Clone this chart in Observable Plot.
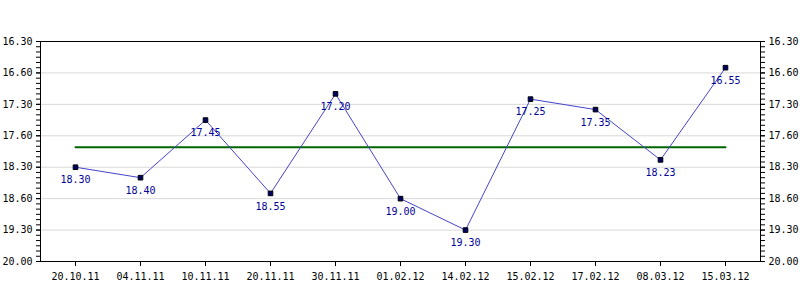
<!DOCTYPE html>
<html>
<head>
<meta charset="utf-8">
<script src="https://cdn.jsdelivr.net/npm/d3@7"></script>
<script src="https://cdn.jsdelivr.net/npm/@observablehq/plot@0.6"></script>
<style>
  html, body { margin: 0; padding: 0; background: #fff; }
  #chart svg { display: block; }
</style>
</head>
<body>
<div id="chart"></div>
<script>
// Categories (dates)
const dates = ["20.10.11","04.11.11","10.11.11","20.11.11","30.11.11","01.02.12","14.02.12","15.02.12","17.02.12","08.03.12","15.03.12"];
// Values as minutes.seconds
const times = ["18.30","18.40","17.45","18.55","17.20","19.00","19.30","17.25","17.35","18.23","16.55"];
// Average line value (minutes.seconds)
const avgTime = "18.11";
// Y tick positions (seconds) and their labels as shown
const yTickSeconds = [990, 1020, 1050, 1080, 1110, 1140, 1170, 1200];
const yTickLabels = ["16.30","16.60","17.30","17.60","18.30","18.60","19.30","20.00"];
const yMinorSeconds = d3.range(990, 1201, 5);

const toSec = t => { const [m, s] = t.split(".").map(Number); return m * 60 + s; };
const data = dates.map((d, i) => ({date: d, label: times[i], sec: toSec(times[i])}));
const avgSec = toSec(avgTime);
const avgData = [{date: dates[0], sec: avgSec}, {date: dates[dates.length - 1], sec: avgSec}];
const labelOf = new Map(yTickSeconds.map((v, i) => [v, yTickLabels[i]]));

const font = "'DejaVu Sans Mono', monospace";

const chart = Plot.plot({
  width: 800,
  height: 300,
  marginLeft: 40,
  marginRight: 40,
  marginTop: 41,
  marginBottom: 39,
  style: {fontFamily: font, fontSize: "10px", color: "black", background: "white"},
  x: {type: "point", domain: dates, padding: 0.5, label: null},
  y: {domain: [990, 1200], reverse: true, label: null},
  marks: [
    Plot.gridY(yTickSeconds.slice(1, -1), {stroke: "#d9d9d9", strokeOpacity: 1}),
    Plot.axisY(yMinorSeconds, {anchor: "left", tickSize: 4, text: null, label: null, stroke: "black"}),
    Plot.axisY(yMinorSeconds, {anchor: "right", tickSize: 4, text: null, label: null, stroke: "black"}),
    Plot.axisY(yTickSeconds, {anchor: "left", tickSize: 4, tickPadding: 4, tickFormat: v => labelOf.get(v), label: null, stroke: "black", fill: "black"}),
    Plot.axisY(yTickSeconds, {anchor: "right", tickSize: 4, tickPadding: 4, tickFormat: v => labelOf.get(v), label: null, stroke: "black", fill: "black"}),
    Plot.axisX({anchor: "bottom", tickSize: 5, tickPadding: 6, label: null, stroke: "black", fill: "black"}),
    Plot.frame({stroke: "black"}),
    Plot.lineY(avgData, {x: "date", y: "sec", stroke: "#006600", strokeWidth: 2}),
    Plot.lineY(data, {x: "date", y: "sec", stroke: "#4444cc", strokeWidth: 1}),
    Plot.dot(data, {x: "date", y: "sec", symbol: "square", r: 2.6, fill: "#000066", stroke: "black", strokeWidth: 1}),
    Plot.text(data, {x: "date", y: "sec", text: "label", dy: 13, fill: "#000099", fontSize: 10})
  ]
});
document.getElementById("chart").appendChild(chart);
</script>
</body>
</html>
